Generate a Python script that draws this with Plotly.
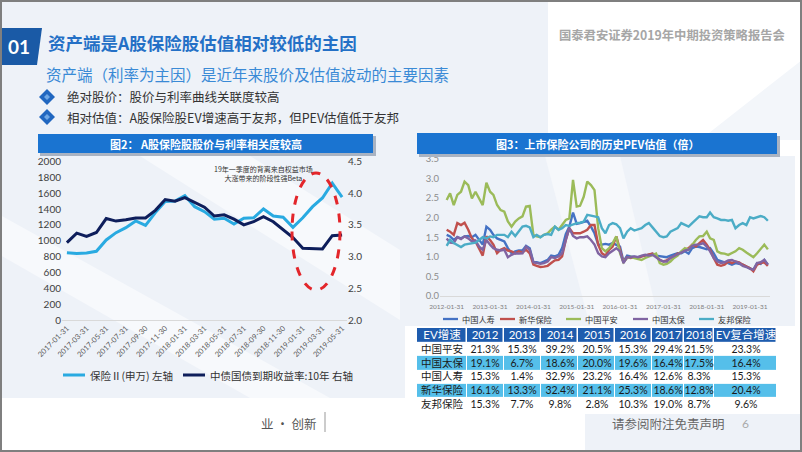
import plotly.graph_objects as go
import pandas as pd

W, H = 802, 452
CJK = "Noto Sans CJK SC"
NUM = "Lato, Noto Sans CJK SC"


def month_ends(start, n):
    try:
        return pd.date_range(start, periods=n, freq="ME")
    except ValueError:
        return pd.date_range(start, periods=n, freq="M")


# ---------------- left chart data (monthly, 2017-01 .. 2019-05) ----------------
ins_index = [850, 840, 845, 867, 1010, 1102, 1165, 1250, 1195, 1355, 1494, 1500, 1570, 1430,
             1367, 1271, 1284, 1212, 1284, 1290, 1401, 1313, 1297, 1170, 1290, 1430, 1540, 1726, 1550]
bond_10y = [3.22, 3.37, 3.32, 3.38, 3.60, 3.56, 3.58, 3.61, 3.61, 3.73, 3.90, 3.875, 3.93, 3.86,
            3.78, 3.64, 3.66, 3.59, 3.50, 3.55, 3.63, 3.55, 3.42, 3.30, 3.13, 3.12, 3.12, 3.33, 3.34]
left_dates = month_ends("2017-01-31", len(ins_index)).strftime("%Y-%m-%d").tolist()
left_ticks = left_dates[::2]
left_names = ["保险Ⅱ(申万) 左轴", "中债国债到期收益率:10年 右轴"]

# ---------------- right chart data (monthly PEV, 2012-01 ..) ----------------
pev_renshou = [1.56, 1.52, 1.43, 1.50, 1.47, 1.52, 1.53, 1.50, 1.56, 1.43,
               1.31, 1.77, 1.69, 1.56, 1.47, 1.43, 1.39, 1.22, 1.09, 1.14,
               1.16, 1.16, 1.28, 1.22, 0.86, 0.86, 0.84, 0.88, 0.92, 1.03,
               1.01, 1.05, 1.22, 1.58, 1.77, 2.13, 1.84, 1.86, 1.90, 1.92,
               1.77, 1.60, 1.31, 1.31, 1.33, 1.31, 1.35, 1.31, 1.26, 0.88,
               1.03, 1.01, 0.99, 0.99, 1.01, 1.03, 1.05, 1.08, 1.03, 1.01,
               0.99, 0.99, 1.03, 1.05, 1.09, 1.09, 1.14, 1.08, 1.22, 1.26,
               1.25, 1.22, 1.19, 1.22, 1.09, 0.92, 0.88, 0.86, 0.84, 0.80,
               0.84, 0.82, 0.80, 0.75, 0.71, 0.67, 0.84, 0.82, 0.92, 0.80]
pev_xinhua = [1.69, 1.64, 1.56, 1.86, 1.81, 1.87, 1.69, 1.47, 1.39, 1.22,
              1.03, 1.52, 1.43, 1.31, 1.09, 1.18, 1.22, 1.16, 1.14, 1.09,
              1.14, 1.11, 1.18, 1.09, 0.80, 0.77, 0.74, 0.75, 0.77, 0.84,
              0.91, 0.92, 1.01, 1.43, 1.73, 1.60, 1.60, 1.60, 1.64, 1.69,
              1.81, 1.81, 1.31, 1.09, 1.03, 1.18, 1.26, 1.52, 1.18, 0.86,
              0.99, 0.97, 0.99, 0.97, 1.01, 1.03, 1.05, 1.08, 1.01, 0.92,
              0.88, 0.91, 0.97, 1.01, 1.08, 1.11, 1.18, 1.22, 1.31, 1.26,
              1.35, 1.43, 1.31, 1.18, 0.97, 0.80, 0.77, 0.80, 0.88, 0.84,
              0.88, 0.86, 0.80, 0.75, 0.71, 0.63, 0.80, 0.84, 0.86, 0.77]
pev_pingan = [2.45, 2.62, 2.32, 2.58, 2.66, 2.92, 2.83, 2.49, 2.66, 2.49,
              2.32, 2.89, 2.66, 2.58, 2.32, 2.19, 2.15, 1.90, 1.77, 1.90,
              1.98, 2.03, 2.28, 2.30, 1.56, 1.52, 1.50, 1.56, 1.60, 1.69,
              1.77, 1.69, 1.81, 1.94, 1.98, 2.96, 2.28, 2.30, 2.53, 2.92,
              2.83, 2.70, 1.73, 1.22, 1.14, 1.22, 1.35, 1.52, 1.09, 0.86,
              0.97, 1.00, 0.97, 0.94, 0.92, 0.97, 1.00, 1.05, 1.08, 0.84,
              0.80, 0.82, 0.88, 0.97, 1.03, 1.14, 1.22, 1.18, 1.31, 1.43,
              1.52, 1.53, 1.64, 1.47, 1.43, 1.14, 1.09, 1.08, 1.05, 1.09,
              1.14, 1.22, 1.18, 1.11, 1.05, 0.99, 1.09, 1.19, 1.31, 1.19]
pev_taibao = [1.47, 1.36, 1.35, 1.50, 1.45, 1.52, 1.47, 1.39, 1.42, 1.26,
              1.18, 1.43, 1.31, 1.22, 1.18, 1.16, 1.18, 0.99, 1.05, 1.09,
              1.08, 1.09, 1.26, 1.18, 0.86, 0.84, 0.82, 0.84, 0.88, 0.99,
              0.97, 1.01, 1.09, 1.43, 1.73, 1.53, 1.47, 1.50, 1.50, 1.52,
              1.43, 1.31, 1.09, 1.01, 0.99, 1.09, 1.16, 1.22, 1.14, 0.84,
              0.99, 0.99, 1.01, 0.99, 1.03, 1.05, 1.03, 1.05, 0.99, 0.92,
              0.88, 0.88, 0.97, 1.01, 1.05, 1.11, 1.16, 1.18, 1.28, 1.31,
              1.31, 1.35, 1.26, 1.14, 0.97, 0.88, 0.84, 0.86, 0.91, 0.92,
              0.88, 0.84, 0.77, 0.74, 0.69, 0.67, 0.84, 0.86, 0.92, 0.80]
pev_youbang = [1.28, 1.43, 1.35, 1.31, 1.25, 1.31, 1.33, 1.35, 1.36, 1.43,
               1.50, 1.47, 1.52, 1.50, 1.56, 1.56, 1.56, 1.50, 1.64, 1.53,
               1.64, 1.77, 1.79, 1.75, 1.50, 1.56, 1.50, 1.56, 1.58, 1.56,
               1.77, 1.69, 1.73, 1.81, 1.79, 1.83, 1.86, 1.87, 1.90, 2.07,
               2.04, 2.03, 2.01, 1.73, 1.60, 1.81, 1.86, 1.83, 1.73, 1.47,
               1.64, 1.73, 1.67, 1.69, 1.73, 1.81, 1.86, 1.75, 1.64, 1.53,
               1.50, 1.52, 1.64, 1.69, 1.73, 1.86, 1.81, 1.77, 1.86, 1.94,
               2.03, 2.01, 2.01, 2.13, 2.01, 1.98, 1.94, 1.94, 1.92, 1.94,
               1.73, 1.81, 1.86, 1.81, 2.01, 1.98, 2.01, 2.04, 2.01, 1.92]
pev_dates = month_ends("2012-01-31", len(pev_pingan)).strftime("%Y-%m-%d").tolist()
pev_ticks = ["2012-01-31", "2013-01-31", "2014-01-31", "2015-01-31",
             "2016-01-31", "2017-01-31", "2018-01-31", "2019-01-31"]
pev_names = ["中国人寿", "新华保险", "中国平安", "中国太保", "友邦保险"]
pev_colors = ["#4472C4", "#C0504D", "#9BBB59", "#8064A2", "#4BACC6"]

# ---------------- EV growth table ----------------
ev_header = ["EV增速", "2012", "2013", "2014", "2015", "2016", "2017", "2018", "EV复合增速"]
ev_companies = ["中国平安", "中国太保", "中国人寿", "新华保险", "友邦保险"]
ev_pingan = ["21.3%", "15.3%", "39.2%", "20.5%", "15.3%", "29.4%", "21.5%", "23.3%"]
ev_taibao = ["19.1%", "6.7%", "18.6%", "20.0%", "19.6%", "16.4%", "17.5%", "16.4%"]
ev_renshou = ["15.3%", "1.4%", "32.9%", "23.2%", "16.4%", "12.6%", "8.3%", "15.3%"]
ev_xinhua = ["16.1%", "13.3%", "32.4%", "21.1%", "25.3%", "18.6%", "12.8%", "20.4%"]
ev_youbang = ["15.3%", "7.7%", "9.8%", "2.8%", "10.3%", "19.0%", "8.7%", "9.6%"]
ev_row_band = [0, 1, 0, 1, 0]          # 1 = highlighted (blue) row
col_widths = [50, 37, 38, 37, 37, 37, 32, 31, 63]


# ---------------- helpers (pixel -> paper) ----------------
def px(x):
    return x / W


def py(y):
    return 1 - y / H


def rect(x0, y0, x1, y1, fill, layer="below", line=None):
    return dict(type="rect", xref="paper", yref="paper", x0=px(x0), x1=px(x1),
                y0=py(y1), y1=py(y0), fillcolor=fill,
                line=line if line else dict(width=0), layer=layer)


def poly(points, fill, layer="below"):
    path = "M " + " L ".join(f"{px(x):.5f},{py(y):.5f}" for x, y in points) + " Z"
    return dict(type="path", xref="paper", yref="paper", path=path,
                fillcolor=fill, line=dict(width=0), layer=layer)


def hline(x0, x1, y, color, width):
    return dict(type="line", xref="paper", yref="paper", x0=px(x0), x1=px(x1),
                y0=py(y), y1=py(y), line=dict(color=color, width=width), layer="above")


def txt(x, y, s, size, color, anchor="left", family=CJK):
    return dict(x=px(x), y=py(y), xref="paper", yref="paper", text=s, showarrow=False,
                xanchor=anchor, yanchor="middle", font=dict(size=size, color=color, family=family))


fig = go.Figure()

# left chart traces
fig.add_trace(go.Scatter(x=left_dates, y=ins_index, name=left_names[0], mode="lines",
                         line=dict(color="#29AAE1", width=3), xaxis="x", yaxis="y",
                         showlegend=False))
fig.add_trace(go.Scatter(x=left_dates, y=bond_10y, name=left_names[1], mode="lines",
                         line=dict(color="#0E1E5B", width=3), xaxis="x", yaxis="y2",
                         showlegend=False))

# right chart traces
for vals, name, col in zip([pev_renshou, pev_xinhua, pev_pingan, pev_taibao, pev_youbang],
                           pev_names, pev_colors):
    fig.add_trace(go.Scatter(x=pev_dates, y=vals, name=name, mode="lines",
                             line=dict(color=col, width=2.4), xaxis="x3", yaxis="y3",
                             showlegend=False))

# table drawn as heatmap cells (non-uniform column edges)
edges = [0]
for w in col_widths:
    edges.append(edges[-1] + w)
rows = [ev_pingan, ev_taibao, ev_renshou, ev_xinhua, ev_youbang]
body_text = [[c] + r for c, r in zip(ev_companies, rows)]
body_z = [[b] * len(ev_header) for b in ev_row_band]
fig.add_trace(go.Heatmap(
    x=edges, y=[-0.5, 0.5], z=[[0] * len(ev_header)], text=[ev_header],
    texttemplate="%{text}", textfont=dict(size=11.5, color="white", family=NUM),
    colorscale=[[0, "#1E5CAE"], [1, "#1E5CAE"]], zmin=0, zmax=1, showscale=False,
    xgap=1.5, ygap=0, hoverinfo="skip", xaxis="x4", yaxis="y4"))
fig.add_trace(go.Heatmap(
    x=edges, y=[0.5 + i for i in range(len(rows) + 1)], z=body_z, text=body_text,
    texttemplate="%{text}", textfont=dict(size=10.5, color="#1A1A1A", family=NUM),
    colorscale=[[0, "#FFFFFF"], [1, "#55BFEA"]], zmin=0, zmax=1, showscale=False,
    xgap=1, ygap=0, hoverinfo="skip", xaxis="x4", yaxis="y4"))

shapes = []
# backgrounds
shapes.append(rect(0, 0, 548, 398, "#EEF2F8"))
shapes.append(poly([(0, 215), (0, 255), (250, 398), (330, 398)], "#F7F9FC"))
shapes.append(poly([(140, 156), (250, 156), (400, 250), (400, 320)], "#F7F9FC"))
shapes.append(poly([(700, 140), (802, 60), (802, 140)], "#F3F6FA"))
shapes.append(rect(405, 156, 795, 326, "#EEF2F8"))
shapes.append(poly([(545, 156), (620, 156), (660, 326), (590, 326)], "#F6F8FB"))
shapes.append(rect(405, 326, 795, 414, "white"))
shapes.append(poly([(585, 414), (802, 414), (802, 452), (585, 452)], "#EEF2F8"))

# header box "01"
shapes.append(poly([(0, 28), (42, 28), (37, 65), (0, 65)], "#1A5AA6", layer="above"))
# bullets (diamonds)
for cy in (97, 117):
    shapes.append(poly([(39, cy), (47, cy - 8), (55, cy), (47, cy + 8)], "#2167C0", layer="above"))
    shapes.append(poly([(44, cy), (47, cy - 3), (50, cy), (47, cy + 3)], "#6FA8E6", layer="above"))

# chart title bars with shadow
shapes.append(rect(40, 136, 376, 156, "#A9B3C2", layer="above"))
shapes.append(rect(38, 134, 373, 153, "#1A74D1", layer="above"))
shapes.append(rect(419, 136, 780, 157, "#A9B3C2", layer="above"))
shapes.append(rect(417, 133, 777, 154, "#1A74D1", layer="above"))

# dashed ellipse
shapes.append(dict(type="circle", xref="paper", yref="paper", x0=px(292), x1=px(340),
                   y0=py(290), y1=py(173), line=dict(color="#E3262B", width=3, dash="dash"),
                   layer="above"))

# manual legends
shapes.append(hline(63, 85, 375, "#29AAE1", 3))
shapes.append(hline(183, 205, 375, "#0E1E5B", 3))
leg_x = [443, 500, 566, 633, 699]
for lx, col in zip(leg_x, pev_colors):
    shapes.append(hline(lx, lx + 15, 319, col, 2.3))

# footer divider and border
shapes.append(dict(type="line", xref="paper", yref="paper", x0=px(325), x1=px(325),
                   y0=py(432), y1=py(412), line=dict(color="#999999", width=1), layer="above"))
shapes.append(rect(1, 1, 801, 451, "rgba(0,0,0,0)", layer="above",
                   line=dict(color="#7F7F7F", width=2)))

annotations = [
    txt(19, 46, "<b>01</b>", 19, "white", "center", family=NUM),
    txt(46, 42, "<b>资产端是A股保险股估值相对较低的主因</b>", 17.5, "#2470C6"),
    txt(44, 74, "资产端（利率为主因）是近年来股价及估值波动的主要因素", 15.5, "#3A8AD6"),
    txt(65, 97, "绝对股价：股价与利率曲线关联度较高", 12.5, "#333333"),
    txt(65, 117, "相对估值：A股保险股EV增速高于友邦，但PEV估值低于友邦", 12.5, "#333333"),
    txt(787, 35, "<b>国泰君安证券2019年中期投资策略报告会</b>", 12.3, "#A6A6A6", "right"),
    txt(206, 144, "<b>图2： A股保险股股价与利率相关度较高</b>", 11, "white", "center"),
    txt(597, 143.5, "<b>图3：上市保险公司的历史PEV估值（倍）</b>", 11, "white", "center"),
    txt(263, 173.5, "19年一季度的背离来自权益市场<br>大涨带来的阶段性强Beta", 7, "#333333", "center"),
    txt(88, 375, left_names[0], 10.5, "#333333"),
    txt(208, 375, left_names[1], 10.5, "#333333"),
    txt(319, 423, "业 · 创新", 12.5, "#555555", "right"),
    txt(610, 423, "请参阅附注免责声明", 12.5, "#666666"),
    txt(745, 423, "6", 12, "#AAAAAA", "center", family=NUM),
]
for lx, name in zip(leg_x, pev_names):
    annotations.append(txt(lx + 17, 319, name, 8.2, "#333333"))

hidden = dict(visible=False, automargin=False, fixedrange=True)
fig.update_layout(
    template="none",
    width=W, height=H, margin=dict(l=0, r=0, t=0, b=0, pad=0, autoexpand=False),
    paper_bgcolor="white", plot_bgcolor="rgba(0,0,0,0)",
    showlegend=False, shapes=shapes, annotations=annotations,
    font=dict(family=NUM),
    xaxis=dict(domain=[px(62), px(347)], anchor="y", type="category", automargin=False,
               range=[-0.5, len(left_dates) - 0.5], tickmode="array",
               tickvals=left_ticks, ticktext=left_ticks, tickangle=-45,
               tickfont=dict(size=7.5, color="#595959", family=NUM),
               showgrid=False, zeroline=False, showline=True, linecolor="#D9D9D9",
               linewidth=1, ticks=""),
    yaxis=dict(domain=[py(320), py(161.5)], anchor="x", range=[0, 2000], dtick=200,
               automargin=False, tickfont=dict(size=10, color="#404040", family=NUM),
               showgrid=False, zeroline=False, showline=False, ticks=""),
    yaxis2=dict(overlaying="y", anchor="x", side="right", range=[2.0, 4.5], dtick=0.5,
                automargin=False, tickformat=".1f",
                tickfont=dict(size=10, color="#404040", family=NUM),
                showgrid=False, zeroline=False, showline=False, ticks=""),
    xaxis3=dict(domain=[px(440), px(770)], anchor="y3", type="date", automargin=False,
                range=["2011-12-06", "2019-07-18"], tickmode="array",
                tickvals=pev_ticks, ticktext=pev_ticks, tickangle=0, ticklabelstandoff=4,
                tickfont=dict(size=6.5, color="#7F7F7F", family=NUM),
                showgrid=False, zeroline=False, showline=True, linecolor="#D9D9D9",
                linewidth=1, ticks=""),
    yaxis3=dict(domain=[py(296), py(158.8)], anchor="x3", range=[0, 3.5], dtick=0.5,
                automargin=False, tickformat=".1f",
                tickfont=dict(size=9.5, color="#8C8C8C", family=NUM),
                showgrid=False, zeroline=False, showline=False, ticks=""),
    xaxis4=dict(domain=[px(417), px(777)], anchor="y4", range=[0, edges[-1]], **hidden),
    yaxis4=dict(domain=[py(411), py(328)], anchor="x4", range=[len(rows) + 0.5, -0.5], **hidden),
)

fig.write_html("out.html", config={"displayModeBar": False},
               post_script="document.body.style.margin='0px';"
                           "document.documentElement.style.overflow='hidden';")
